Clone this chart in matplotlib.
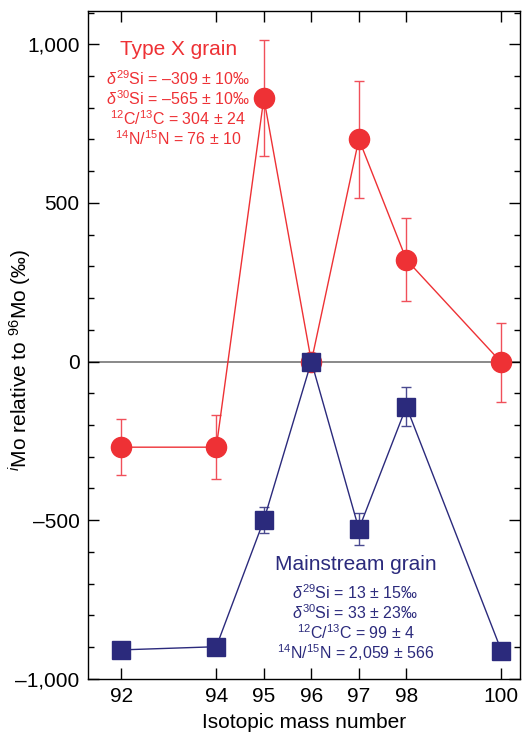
import numpy as np
import matplotlib
matplotlib.use("Agg")
import matplotlib.pyplot as plt
from matplotlib.ticker import MultipleLocator, FuncFormatter

plt.rcParams['font.family'] = ['Liberation Sans', 'DejaVu Sans']
plt.rcParams['mathtext.fontset'] = 'custom'
plt.rcParams['mathtext.rm'] = 'Liberation Sans'
plt.rcParams['mathtext.it'] = 'Liberation Sans:italic'
plt.rcParams['mathtext.default'] = 'rm'

# isotope mass numbers
mass = [92, 94, 95, 96, 97, 98, 100]

# type X grain
x_vals = [-270, -270, 830, 0, 701, 321, -3]
x_err = [88, 100, 182, 0, 184, 130, 123]

# mainstream grain
ms_vals = [-909, -899, -500, 0, -528, -142, -912]
ms_err = [0, 0, 42, 0, 50, 62, 0]

x_text = [r'$\mathit{\delta}^{29}$Si = –309 ± 10‰', r'$\mathit{\delta}^{30}$Si = –565 ± 10‰',
          r'$^{12}$C/$^{13}$C = 304 ± 24', r'$^{14}$N/$^{15}$N = 76 ± 10']
ms_text = [r'$\mathit{\delta}^{29}$Si = 13 ± 15‰', r'$\mathit{\delta}^{30}$Si = 33 ± 23‰',
           r'$^{12}$C/$^{13}$C = 99 ± 4', r'$^{14}$N/$^{15}$N = 2,059 ± 566']

red = '#ee3135'
red_err = '#f0505a'
blue = '#2b2a7c'
blue_err = '#4a4a90'

fig = plt.figure(figsize=(5.22, 7.33), dpi=100)
ax = fig.add_axes([0.1686, 0.074, 0.8284, 0.911])

ax.axhline(0, color='#808080', lw=1.3, zorder=1)

ax.errorbar(mass, x_vals, yerr=x_err, fmt='none', ecolor=red_err, elinewidth=1.0,
            capsize=3.5, capthick=1.0, zorder=2)
ax.plot(mass, x_vals, '-', color=red, lw=1.0, zorder=3)
ax.plot(mass, x_vals, 'o', color=red, ms=14.5, mec=red, zorder=4)

ax.errorbar(mass, ms_vals, yerr=ms_err, fmt='none', ecolor=blue_err, elinewidth=1.0,
            capsize=3.5, capthick=1.0, zorder=5)
ax.plot(mass, ms_vals, '-', color=blue, lw=1.0, zorder=6)
ax.plot(mass, ms_vals, 's', color=blue, ms=13.5, mec=blue, zorder=7)

ax.set_xlim(91.3, 100.4)
ax.set_ylim(-1000, 1105)
ax.set_xticks(mass)
ax.yaxis.set_major_locator(MultipleLocator(500))
ax.yaxis.set_minor_locator(MultipleLocator(100))
ax.yaxis.set_major_formatter(FuncFormatter(lambda v, p: f'{int(v):,}'.replace('-', '–')))

ax.tick_params(which='both', direction='in', top=True, right=True, labelsize=15, width=1.0)
ax.tick_params(which='major', length=8, pad=6)
ax.tick_params(which='minor', length=4.5)
for s in ax.spines.values():
    s.set_linewidth(1.0)

ax.set_xlabel('Isotopic mass number', fontsize=15, labelpad=5)
ax.set_ylabel(r'$^{\mathit{i}}$Mo relative to $^{96}$Mo (‰)', fontsize=15)
ax.yaxis.set_label_coords(-0.125, 0.477)

ax.text(93.2, 984, 'Type X grain', color=red, fontsize=15, ha='center', va='center')
for i, t in enumerate(x_text):
    ax.text(93.2, 891 - i * 63, t, color=red, fontsize=11.5, ha='center', va='center')

ax.text(96.93, -641, 'Mainstream grain', color=blue, fontsize=15, ha='center', va='center')
for i, t in enumerate(ms_text):
    ax.text(96.93, -729 - i * 63, t, color=blue, fontsize=11.5, ha='center', va='center')

fig.savefig('out.png', dpi=100)
